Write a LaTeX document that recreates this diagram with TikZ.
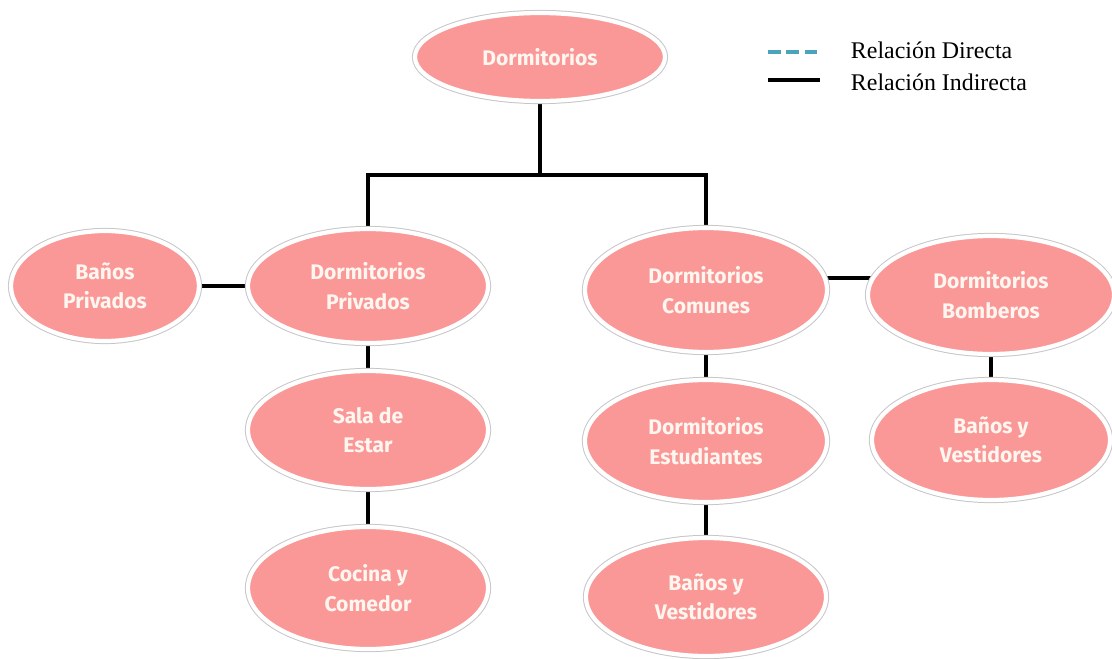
\documentclass[tikz,border=0pt]{standalone}
\usepackage{fontspec}
\setmainfont{Liberation Serif}
\newfontfamily\nodefont{Fira Sans}
\usetikzlibrary{backgrounds,shapes.geometric}
\definecolor{rosa}{HTML}{FA9898}
\definecolor{letra}{HTML}{FFF6F0}
\definecolor{azul}{HTML}{4BA3BE}
\tikzset{
  area/.style={ellipse,fill=rosa,draw=white,line width=3pt,
    preaction={draw=gray!45,line width=4.4pt},
    text=letra,align=center,inner sep=0pt,
    font=\nodefont\bfseries\fontsize{15}{21}\selectfont},
  dims/.style 2 args={minimum width=#1*0.025cm,minimum height=#2*0.025cm},
  link/.style={line width=2.8pt,black}
}
\begin{document}
\begin{tikzpicture}[x=0.025cm,y=-0.025cm]
\useasboundingbox (0,0) rectangle (1112,658);
% Top level
\node[area,dims={250}{88}] (dorm) at (540,57) {Dormitorios};
% Second level
\node[area,dims={188}{110}] (bpriv) at (105,286) {Baños\\Privados};
\node[area,dims={240}{114}] (priv) at (368,286) {Dormitorios\\Privados};
\node[area,dims={242}{124}] (com) at (706,290) {Dormitorios\\Comunes};
\node[area,dims={246}{118}] (bomb) at (991,295) {Dormitorios\\Bomberos};
% Third level
\node[area,dims={240}{118}] (sala) at (368,430) {Sala de\\Estar};
\node[area,dims={242}{122}] (estu) at (706,441) {Dormitorios\\Estudiantes};
\node[area,dims={238}{120}] (bves2) at (991,440) {Baños y\\Vestidores};
% Fourth level
\node[area,dims={240}{122}] (coc) at (368,588) {Cocina y\\Comedor};
\node[area,dims={240}{118}] (bves1) at (706,597) {Baños y\\Vestidores};
% Connectors
\coordinate (split) at (540,175);
\begin{scope}[on background layer]
\draw[link] (dorm) -- (split);
\draw[link] (priv) |- (split) -| (com);
\draw[link] (bpriv) -- (priv);
\draw[link] ([yshift=8.5pt]com.center) -- ([yshift=8.5pt]com.center -| bomb.center);
\draw[link] (priv) -- (sala) -- (coc);
\draw[link] (com) -- (estu) -- (bves1);
\draw[link] (bomb) -- (bves2);
\end{scope}
% Legend
\coordinate (ld) at (768,52);
\coordinate (li) at (768,80);
\draw[azul,line width=2.4pt,dash pattern=on 9pt off 4pt] (ld) -- ++(52,0);
\draw[link] (li) -- ++(52,0);
\node[anchor=west,font=\fontsize{17}{20}\selectfont] (tdir) at (846,50) {Relación Directa};
\node[anchor=west,font=\fontsize{17}{20}\selectfont] (tind) at (846,82) {Relación Indirecta};
\end{tikzpicture}
\end{document}
